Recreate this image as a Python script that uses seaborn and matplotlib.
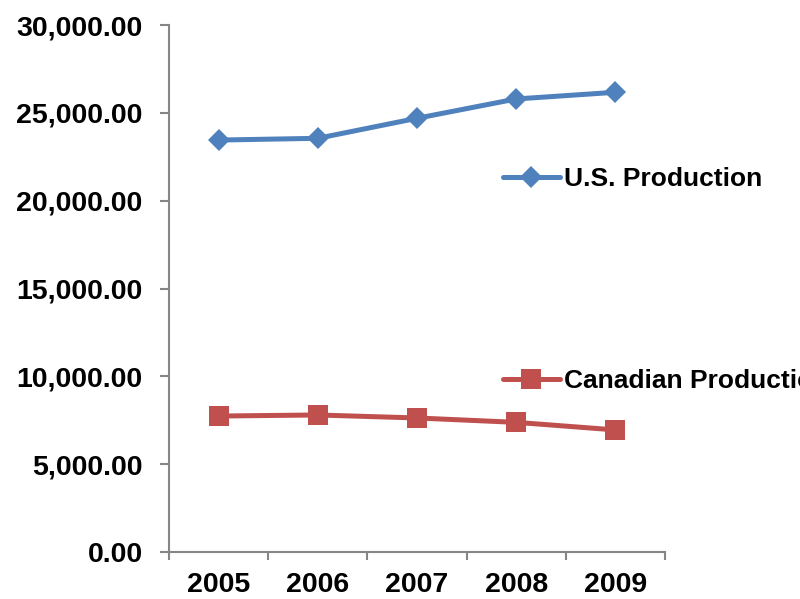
import numpy as np
import pandas as pd
import matplotlib
matplotlib.use('Agg')
import matplotlib.pyplot as plt
import matplotlib.ticker as mticker
import seaborn as sns

# data
years = [2005, 2006, 2007, 2008, 2009]
us_production = [23450, 23550, 24690, 25790, 26170]
canadian_production = [7740, 7800, 7630, 7380, 6950]
series_names = ['U.S. Production', 'Canadian Production']
series_colors = ['#4F81BD', '#C0504D']

df_us = pd.DataFrame({'Year': years, 'Value': us_production})
df_ca = pd.DataFrame({'Year': years, 'Value': canadian_production})

sns.set_style('white')
plt.rcParams['font.family'] = ['Liberation Sans', 'DejaVu Sans']
plt.rcParams['font.weight'] = 'bold'
plt.rcParams['text.color'] = 'black'

fig = plt.figure(figsize=(8, 5.99), dpi=100)
ax = fig.add_axes([169 / 800, 1 - 552 / 599, 496 / 800, 527 / 599])

sns.lineplot(data=df_us, x='Year', y='Value', color=series_colors[0],
             marker='D', markersize=11, markeredgewidth=0, linewidth=3.6,
             label=series_names[0], ax=ax)
sns.lineplot(data=df_ca, x='Year', y='Value', color=series_colors[1],
             marker='s', markersize=14.4, markeredgewidth=0, linewidth=3.6,
             label=series_names[1], ax=ax)

ax.set_xlim(years[0] - 0.5, years[-1] + 0.5)
ax.set_ylim(0, 30000)
ax.set_yticks(np.arange(0, 30001, 5000))
ax.yaxis.set_major_formatter(mticker.StrMethodFormatter('{x:,.2f}'))
ax.set_xticks(years)
ax.set_xticks(np.arange(years[0] - 0.5, years[-1] + 1, 1), minor=True)
ax.set_xlabel('')
ax.set_ylabel('')

for side in ['top', 'right']:
    ax.spines[side].set_visible(False)
for side in ['left', 'bottom']:
    ax.spines[side].set_color('#868686')
    ax.spines[side].set_linewidth(1.5)

ax.tick_params(axis='y', which='major', direction='out', length=6.5, width=1.5,
               color='#868686', labelcolor='black', pad=12.5, labelsize=20.5,
               left=True)
ax.tick_params(axis='x', which='major', length=0, pad=14.5, labelsize=20.5,
               labelcolor='black')
ax.tick_params(axis='x', which='minor', direction='out', length=5.5, width=1.5,
               color='#868686', bottom=True)
for lbl in ax.get_xticklabels() + ax.get_yticklabels():
    lbl.set_fontweight('bold')

leg = ax.legend(loc='center left', bbox_to_anchor=(503 / 800, 1 - 280 / 599),
                bbox_transform=fig.transFigure, frameon=False, borderpad=0,
                borderaxespad=0, handlelength=2.15, handletextpad=0.15,
                labelspacing=6.75, prop={'weight': 'bold', 'size': 19})
for txt in leg.get_texts():
    txt.set_color('black')

plt.savefig('out.png', dpi=100)
